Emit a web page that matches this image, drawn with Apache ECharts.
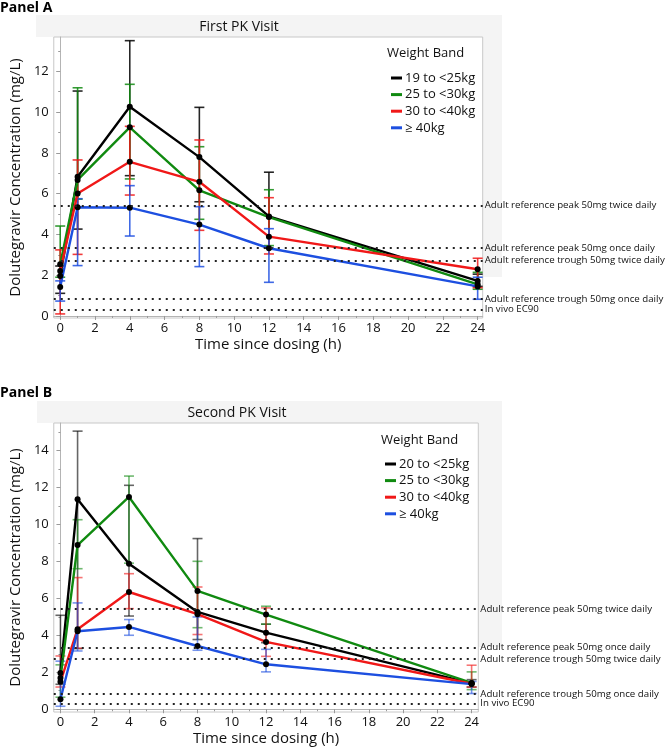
<!DOCTYPE html>
<html>
<head>
<meta charset="utf-8">
<script src="https://cdn.jsdelivr.net/npm/echarts@6/dist/echarts.min.js"></script>
<style>
html,body{margin:0;padding:0;background:#fff;}
#chart{width:667px;height:750px;}
</style>
</head>
<body>
<div id="chart"></div>
<script>
// ---------- data ----------
const times = [0, 1, 4, 8, 12, 24];
const groupColors = ['#000000', '#108a10', '#f01818', '#1d4fe0'];

const namesA = ['19 to <25kg', '25 to <30kg', '30 to <40kg', '\u2265 40kg'];
const meanA = [
  [1.96, 6.83, 10.26, 7.79, 4.88, 1.72],
  [2.53, 6.67, 9.25, 6.16, 4.85, 1.55],
  [2.20, 6.01, 7.56, 6.58, 3.89, 2.29],
  [1.42, 5.33, 5.31, 4.48, 3.32, 1.45]
];
const lowA = [
  [1.11, 4.26, 6.88, 5.60, 3.32, 1.45],
  [1.90, 5.73, 6.72, 4.74, 3.45, 1.31],
  [0.10, 3.02, 5.93, 4.20, 3.04, 1.39],
  [0.73, 2.47, 3.92, 2.42, 1.65, 0.82]
];
const highA = [
  [2.45, 11.03, 13.50, 10.23, 7.05, 2.05],
  [4.41, 11.19, 11.36, 8.30, 6.19, 2.14],
  [3.24, 7.65, 9.30, 8.63, 5.80, 2.83],
  [1.72, 5.75, 6.39, 5.36, 4.28, 1.90]
];

const namesB = ['20 to <25kg', '25 to <30kg', '30 to <40kg', '\u2265 40kg'];
const meanB = [
  [1.96, 11.35, 7.87, 5.26, 4.14, 1.40],
  [1.69, 8.88, 11.48, 6.40, 5.12, 1.42],
  [1.48, 4.33, 6.34, 5.14, 3.64, 1.38],
  [0.54, 4.22, 4.45, 3.42, 2.43, 1.36]
];
const lowB = [
  [1.35, 3.28, 5.04, 3.77, 3.60, 1.20],
  [0.65, 7.60, 7.90, 4.41, 4.60, 1.06],
  [1.20, 3.30, 5.44, 4.04, 2.86, 1.20],
  [0.16, 3.15, 4.00, 3.19, 2.02, 0.85]
];
const highB = [
  [5.08, 15.04, 12.11, 9.23, 4.60, 1.60],
  [2.40, 10.25, 12.61, 8.00, 5.57, 2.02],
  [2.88, 7.12, 7.33, 6.61, 5.48, 2.38],
  [2.60, 5.75, 4.85, 4.99, 3.24, 1.50]
];

const refValues = [5.41, 3.34, 2.72, 0.83, 0.32];
const refLabels = [
  'Adult reference peak 50mg twice daily',
  'Adult reference peak 50mg once daily',
  'Adult reference trough 50mg twice daily',
  'Adult reference trough 50mg once daily',
  'In vivo EC90'
];

const xMajor = [0, 2, 4, 6, 8, 10, 12, 14, 16, 18, 20, 22, 24];
const xMinor = [1, 3, 5, 7, 9, 11, 13, 15, 17, 19, 21, 23];
const yMajorA = [0, 2, 4, 6, 8, 10, 12];
const yMinorA = [1, 3, 5, 7, 9, 11, 13];
const yMajorB = [0, 2, 4, 6, 8, 10, 12, 14];
const yMinorB = [1, 3, 5, 7, 9, 11, 13, 15];

const panelTitles = ['First PK Visit', 'Second PK Visit'];
const panelLabels = ['Panel A', 'Panel B'];
const xTitle = 'Time since dosing (h)';
const yTitle = 'Dolutegravir Concentration (mg/L)';
const legendTitle = 'Weight Band';

// ---------- chart ----------
const FONT = 'Open Sans';
const chart = echarts.init(document.getElementById('chart'), null, {renderer: 'canvas'});

function mainX(gi, min, max) {
  return {
    gridIndex: gi, type: 'value', min: min, max: max,
    axisLine: {show: true, lineStyle: {color: '#b4b4b4', width: 1}},
    axisTick: {show: true, customValues: xMajor, length: 4, lineStyle: {color: '#9a9a9a'}},
    axisLabel: {customValues: xMajor, fontSize: 13, color: '#111', fontFamily: FONT, margin: 4},
    splitLine: {show: false},
    name: xTitle, nameLocation: 'middle', nameGap: 19,
    nameTextStyle: {fontSize: 15, color: '#111', fontFamily: FONT}
  };
}
function minorX(gi, min, max) {
  return {
    gridIndex: gi, type: 'value', min: min, max: max, position: 'bottom',
    axisLine: {show: false},
    axisTick: {show: true, customValues: xMinor, length: 2, lineStyle: {color: '#9a9a9a'}},
    axisLabel: {show: false}, splitLine: {show: false}
  };
}
function mainY(gi, min, max, major) {
  return {
    gridIndex: gi, type: 'value', min: min, max: max,
    axisLine: {show: true, lineStyle: {color: '#b4b4b4', width: 1}},
    axisTick: {show: true, customValues: major, length: 4, lineStyle: {color: '#9a9a9a'}},
    axisLabel: {customValues: major, fontSize: 13, color: '#111', fontFamily: FONT, margin: 5},
    splitLine: {show: false},
    name: yTitle, nameLocation: 'middle', nameGap: 19,
    nameTextStyle: {fontSize: 15, color: '#111', fontFamily: FONT}
  };
}
function minorY(gi, min, max, minor) {
  return {
    gridIndex: gi, type: 'value', min: min, max: max, position: 'left',
    axisLine: {show: false},
    axisTick: {show: true, customValues: minor, length: 2, lineStyle: {color: '#9a9a9a'}},
    axisLabel: {show: false}, splitLine: {show: false}
  };
}

function errorSeries(name, xi, yi, low, high, color, opacity) {
  return {
    type: 'custom', name: name, xAxisIndex: xi, yAxisIndex: yi, z: 2, silent: true,
    data: times.map((t, i) => [t, low[i], high[i]]),
    encode: {x: 0, y: [1, 2]},
    renderItem: function (params, api) {
      const x = api.value(0);
      const p1 = api.coord([x, api.value(1)]);
      const p2 = api.coord([x, api.value(2)]);
      const w = 5;
      const st = {stroke: color, lineWidth: 1.6, opacity: opacity};
      return {type: 'group', children: [
        {type: 'line', shape: {x1: p1[0], y1: p1[1], x2: p2[0], y2: p2[1]}, style: st},
        {type: 'line', shape: {x1: p1[0] - w, y1: p1[1], x2: p1[0] + w, y2: p1[1]}, style: st},
        {type: 'line', shape: {x1: p2[0] - w, y1: p2[1], x2: p2[0] + w, y2: p2[1]}, style: st}
      ]};
    }
  };
}

function lineSeries(name, xi, yi, mean, color, withRef) {
  const s = {
    type: 'line', name: name, xAxisIndex: xi, yAxisIndex: yi, z: 3,
    data: times.map((t, i) => [t, mean[i]]),
    symbol: 'circle', symbolSize: 6, showSymbol: true,
    itemStyle: {color: '#000'},
    lineStyle: {color: color, width: 2.4},
    emphasis: {disabled: true}
  };
  if (withRef) {
    s.markLine = {
      silent: true, symbol: ['none', 'none'], animation: false,
      lineStyle: {color: '#222', width: 2, type: [2, 5], cap: 'butt'},
      label: {show: true, position: 'end', formatter: '{b}', fontSize: 9.7, color: '#111', fontFamily: FONT, distance: 2},
      data: refValues.map((v, i) => ({yAxis: v, name: refLabels[i]}))
    };
  }
  return s;
}

const series = [];
for (let g = 0; g < 4; g++) series.push(errorSeries('errA' + g, 0, 0, lowA[g], highA[g], groupColors[g], 0.85));
for (let g = 0; g < 4; g++) series.push(errorSeries('errB' + g, 2, 2, lowB[g], highB[g], groupColors[g], 0.6));
for (let g = 0; g < 4; g++) series.push(lineSeries(namesA[g], 0, 0, meanA[g], groupColors[g], g === 3));
for (let g = 0; g < 4; g++) series.push(lineSeries(namesB[g], 2, 2, meanB[g], groupColors[g], g === 3));

function legendFor(names, left, top) {
  return {
    orient: 'vertical', left: left, top: top, icon: 'rect',
    itemWidth: 11, itemHeight: 3, itemGap: 2.6, selectedMode: false,
    textStyle: {fontSize: 13, color: '#111', fontFamily: FONT, lineHeight: 14, padding: [0, 0, 0, -2]},
    data: names.map((n, i) => ({name: n, itemStyle: {color: groupColors[i]}}))
  };
}

const option = {
  animation: false,
  backgroundColor: '#fff',
  grid: [
    {left: 40, top: 37, width: 442.7, height: 281, show: true, backgroundColor: '#fff', borderColor: '#c8c8c8', borderWidth: 1, containLabel: false},
    {left: 41.7, top: 423, width: 436.6, height: 289, show: true, backgroundColor: '#fff', borderColor: '#c8c8c8', borderWidth: 1, containLabel: false}
  ],
  xAxis: [mainX(0, -0.37, 24.29), minorX(0, -0.37, 24.29), mainX(1, -0.39, 24.39), minorX(1, -0.39, 24.39)],
  yAxis: [mainY(0, -0.1, 13.68, yMajorA), minorY(0, -0.1, 13.68, yMinorA), mainY(1, -0.15, 15.48, yMajorB), minorY(1, -0.15, 15.48, yMinorB)],
  legend: [legendFor(namesA, 386, 66), legendFor(namesB, 380, 452)],
  graphic: [
    {type: 'rect', z: -10, shape: {x: 36, y: 15, width: 466, height: 22}, style: {fill: '#f4f4f4'}},
    {type: 'rect', z: -10, shape: {x: 483, y: 37, width: 19, height: 240}, style: {fill: '#f4f4f4'}},
    {type: 'rect', z: -10, shape: {x: 37, y: 401, width: 465, height: 22}, style: {fill: '#f4f4f4'}},
    {type: 'rect', z: -10, shape: {x: 479, y: 423, width: 23, height: 224}, style: {fill: '#f4f4f4'}},
    {type: 'text', left: 0, top: 1, style: {text: panelLabels[0], font: 'bold 14px "' + FONT + '"', fill: '#000'}},
    {type: 'text', left: 0, top: 386, style: {text: panelLabels[1], font: 'bold 14px "' + FONT + '"', fill: '#000'}},
    {type: 'text', x: 239, y: 27, style: {text: panelTitles[0], font: '14px "' + FONT + '"', fill: '#111', align: 'center', verticalAlign: 'middle'}},
    {type: 'text', x: 237, y: 413, style: {text: panelTitles[1], font: '14px "' + FONT + '"', fill: '#111', align: 'center', verticalAlign: 'middle'}},
    {type: 'text', x: 387, y: 53, style: {text: legendTitle, font: '13px "' + FONT + '"', fill: '#111', align: 'left', verticalAlign: 'middle'}},
    {type: 'text', x: 381, y: 440, style: {text: legendTitle, font: '13px "' + FONT + '"', fill: '#111', align: 'left', verticalAlign: 'middle'}}
  ],
  series: series
};
chart.setOption(option);
</script>
</body>
</html>
